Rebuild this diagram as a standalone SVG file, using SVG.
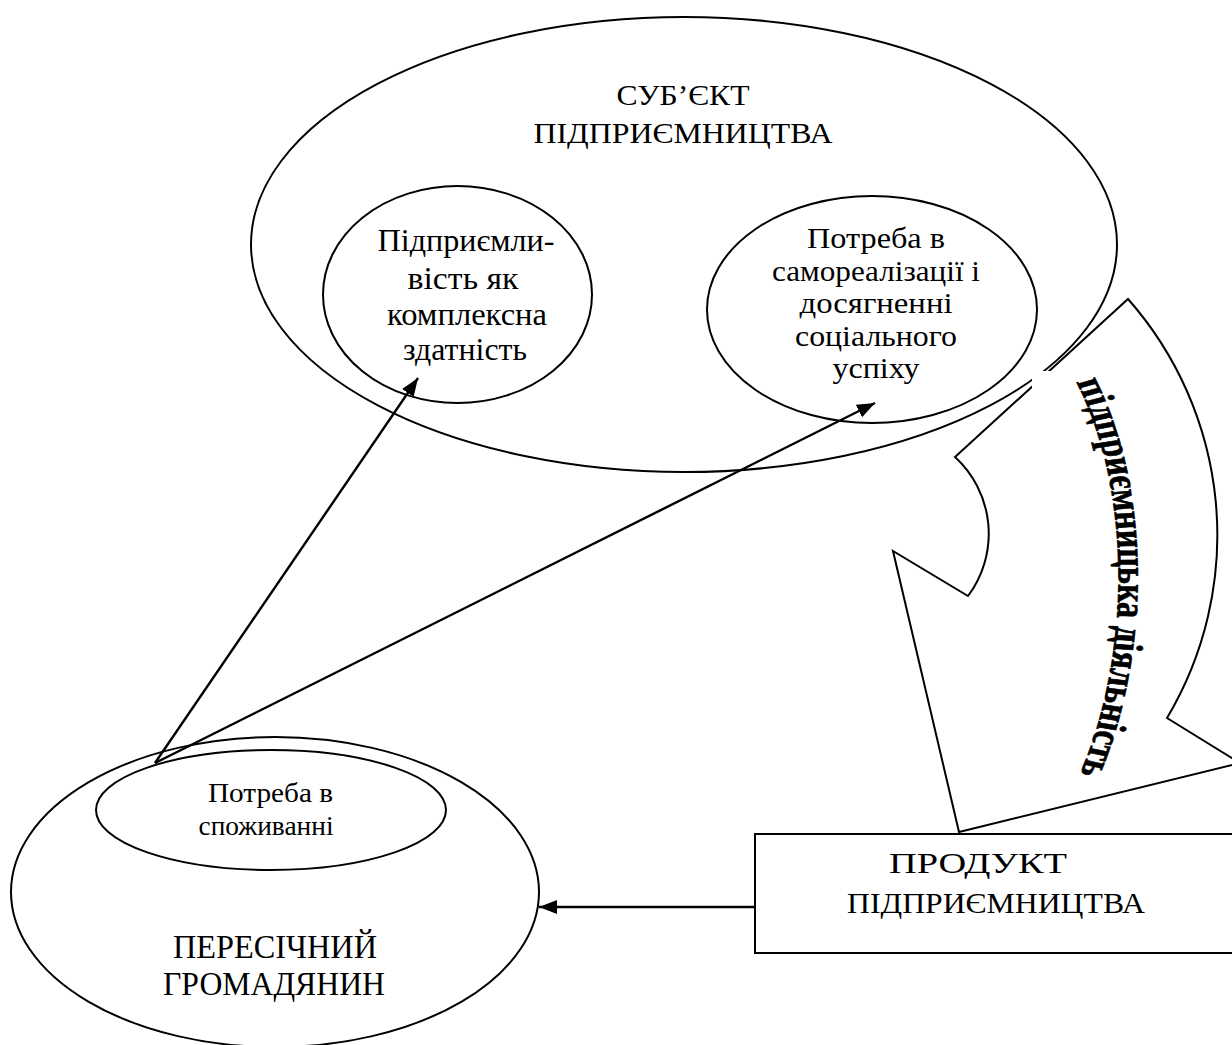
<svg xmlns="http://www.w3.org/2000/svg" width="1232" height="1045" viewBox="0 0 1232 1045">
<style>
.sh{fill:none;stroke:#000;stroke-width:2}
.wf{fill:#fff;stroke:#000;stroke-width:2}
.t{font-family:"Liberation Serif","Times New Roman",serif;fill:#000;text-anchor:middle}
.cn{stroke:#000;stroke-width:2.4;fill:none}
</style>
<defs>
<marker id="ah" viewBox="0 0 18 14" refX="18" refY="7" markerWidth="18" markerHeight="14" orient="auto" markerUnits="userSpaceOnUse">
<path d="M0,0 L18,7 L0,14 Z" fill="#000"/>
</marker>
<path id="tp" d="M1074,497.4 C1130,631.6 1135,855.3 1078,1023.7"/>
</defs>
<rect width="1232" height="1045" fill="#fff"/>

<g id="subject">
<ellipse class="sh" cx="684" cy="244.5" rx="433" ry="227.5"/>
<text class="t" font-size="30" x="683" y="105" textLength="133" lengthAdjust="spacingAndGlyphs">СУБ’ЄКТ</text>
<text class="t" font-size="30" x="683" y="143" textLength="299" lengthAdjust="spacingAndGlyphs">ПІДПРИЄМНИЦТВА</text>
</g>

<g id="enterprise-ability">
<ellipse class="sh" cx="457.5" cy="294.5" rx="134.5" ry="108.5"/>
<text class="t" font-size="31" x="466" y="251" textLength="177" lengthAdjust="spacingAndGlyphs">Підприємли-</text>
<text class="t" font-size="31" x="463" y="289" textLength="111" lengthAdjust="spacingAndGlyphs">вість як</text>
<text class="t" font-size="31" x="467" y="325" textLength="160" lengthAdjust="spacingAndGlyphs">комплексна</text>
<text class="t" font-size="31" x="465" y="360" textLength="124" lengthAdjust="spacingAndGlyphs">здатність</text>
</g>

<g id="self-realization-need">
<ellipse class="sh" cx="872" cy="309.5" rx="165" ry="113.5"/>
<text class="t" font-size="29" x="876" y="248" textLength="138" lengthAdjust="spacingAndGlyphs">Потреба в</text>
<text class="t" font-size="29" x="876" y="280.5" textLength="208" lengthAdjust="spacingAndGlyphs">самореалізації і</text>
<text class="t" font-size="29" x="876" y="313" textLength="153" lengthAdjust="spacingAndGlyphs">досягненні</text>
<text class="t" font-size="29" x="876" y="345.5" textLength="162" lengthAdjust="spacingAndGlyphs">соціального</text>
<text class="t" font-size="29" x="876" y="378" textLength="87" lengthAdjust="spacingAndGlyphs">успіху</text>
</g>

<g id="citizen">
<ellipse class="sh" cx="275" cy="892" rx="264" ry="155"/>
<text class="t" font-size="34" x="275" y="958" textLength="204" lengthAdjust="spacingAndGlyphs">ПЕРЕСІЧНИЙ</text>
<text class="t" font-size="34" x="274" y="995" textLength="222" lengthAdjust="spacingAndGlyphs">ГРОМАДЯНИН</text>
</g>

<g id="consumption-need">
<ellipse class="sh" cx="271" cy="810" rx="175" ry="60"/>
<text class="t" font-size="28" x="270.5" y="802" textLength="125" lengthAdjust="spacingAndGlyphs">Потреба в</text>
<text class="t" font-size="28" x="266" y="835" textLength="135" lengthAdjust="spacingAndGlyphs">споживанні</text>
</g>

<g id="product">
<rect class="wf" x="755" y="834" width="500" height="119"/>
<text class="t" font-size="30" x="978" y="873" textLength="178" lengthAdjust="spacingAndGlyphs">ПРОДУКТ</text>
<text class="t" font-size="30" x="996" y="913" textLength="298" lengthAdjust="spacingAndGlyphs">ПІДПРИЄМНИЦТВА</text>
</g>

<g id="activity">
<path class="wf" d="M1128,299 A357,357 0 0 1 1167,718 L1240,763 L959,832 L893,551 L968,596 A104,104 0 0 0 955,457 Z"/>
<rect x="1032" y="371" width="40" height="40" fill="#fff"/>
<g transform="scale(1,0.76)">
<text font-family="Liberation Serif, Times New Roman, serif" font-weight="bold" font-size="42" fill="#000" stroke="#000" stroke-width="0.8"><textPath href="#tp" startOffset="50%" text-anchor="middle">підприємницька діяльність</textPath></text>
</g>
</g>

<g id="connectors">
<line class="cn" x1="155" y1="763" x2="418" y2="378" marker-end="url(#ah)"/>
<line class="cn" x1="155" y1="763" x2="875" y2="403" marker-end="url(#ah)"/>
<line class="cn" x1="755" y1="907" x2="539" y2="907" marker-end="url(#ah)"/>
</g>
</svg>
